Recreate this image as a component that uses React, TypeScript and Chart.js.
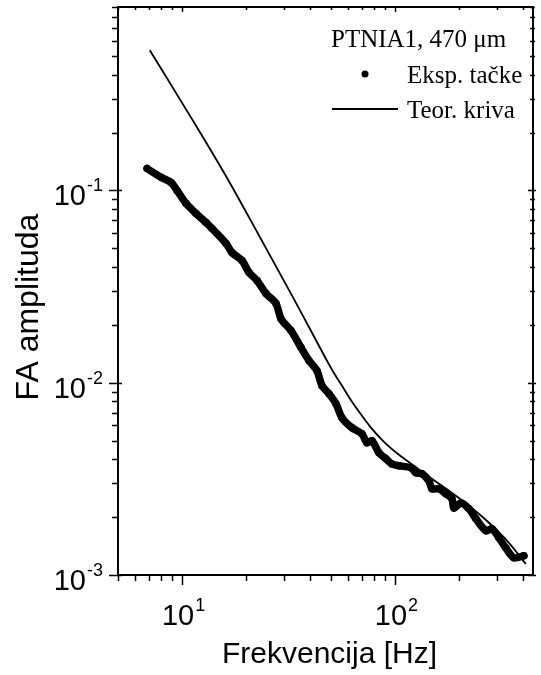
import React, { useEffect, useRef } from "react";
import { Chart, registerables } from "chart.js";

Chart.register(...registerables);

// Experimental points (frequency in Hz, photoacoustic amplitude)
const expFreq = [6.85, 7.97, 8.88, 9.47, 10.44, 11.63, 12.96, 13.83, 16.09, 17.17, 19.13, 20.63, 22.5, 24.8, 27.63, 29.16, 32.49, 36.21, 39.48, 43.03, 45.42, 48.98, 52.84, 56.38, 62.84, 70.0, 73.9, 78.0, 84.1, 90.7, 96.8, 104.4, 118.9, 125.5, 133.9, 144.4, 149.2, 160.9, 173.6, 185.2, 189.2, 204.2, 222.6, 240.1, 267.5, 285.4, 307.8, 332, 362, 403];
const expAmp = [0.13, 0.117, 0.11, 0.1, 0.0856, 0.0759, 0.0681, 0.0634, 0.053, 0.0475, 0.0432, 0.0374, 0.034, 0.0291, 0.0258, 0.0215, 0.01866, 0.01522, 0.01302, 0.01155, 0.00965, 0.00877, 0.00778, 0.00657, 0.00583, 0.00542, 0.00487, 0.00499, 0.00432, 0.00402, 0.00378, 0.0037, 0.00361, 0.0034, 0.00336, 0.00309, 0.00281, 0.00281, 0.00264, 0.00249, 0.00223, 0.00237, 0.00221, 0.00196, 0.0017, 0.00174, 0.00156, 0.00138, 0.00123, 0.00126];

// Theoretical curve
const theoFreq = [7.05, 10.79, 16.62, 22.98, 32.85, 40.76, 50.6, 56.38, 62.84, 70.0, 78.0, 88.8, 104.4, 122.8, 144.4, 179.3, 222.6, 276.3, 342.9, 412];
const theoAmp = [0.536, 0.2488, 0.1114, 0.0583, 0.0284, 0.0182, 0.01169, 0.00965, 0.00796, 0.00673, 0.00576, 0.00493, 0.00422, 0.0037, 0.00324, 0.00274, 0.00229, 0.00187, 0.00147, 0.00114];

// Axis ranges and labels
const xRange = [5, 445];
const yRange = [0.001, 0.9];
const xMajorExps = [1, 2];
const yMajorExps = [-1, -2, -3];

const legendTitle = "PTNIA1, 470 \u03bcm";
const expLabel = "Eksp. ta\u010dke";
const theoLabel = "Teor. kriva";
const xTitle = "Frekvencija [Hz]";
const yTitle = "FA amplituda";

const SANS = '"Liberation Sans", Arial, sans-serif';
const SERIF = '"Liberation Serif", "Times New Roman", serif';

function logTicks(min: number, max: number) {
  const out: { v: number; major: boolean }[] = [];
  const d0 = Math.floor(Math.log10(min));
  const d1 = Math.ceil(Math.log10(max));
  for (let d = d0; d <= d1; d++) {
    for (let m = 1; m <= 9; m++) {
      const v = m * Math.pow(10, d);
      if (v >= min * 0.9999 && v <= max * 1.0001) out.push({ v, major: m === 1 });
    }
  }
  return out;
}

const framePlugin = {
  id: "framePlugin",
  afterDraw(chart: any) {
    const { ctx, chartArea: a, scales } = chart;
    const xs = scales.x;
    const ys = scales.y;
    ctx.save();
    ctx.strokeStyle = "#000";
    ctx.fillStyle = "#000";
    ctx.lineWidth = 2;
    ctx.strokeRect(a.left, a.top, a.right - a.left, a.bottom - a.top);

    ctx.lineWidth = 1.5;
    ctx.beginPath();
    for (const t of logTicks(xRange[0], xRange[1])) {
      const px = Math.round(xs.getPixelForValue(t.v)) + 0.5;
      const out = t.major ? 10 : 6;
      ctx.moveTo(px, a.bottom);
      ctx.lineTo(px, a.bottom + out);
      const inn = t.major ? 5 : 3;
      ctx.moveTo(px, a.top);
      ctx.lineTo(px, a.top + inn);
    }
    for (const t of logTicks(yRange[0], yRange[1])) {
      const py = Math.round(ys.getPixelForValue(t.v)) + 0.5;
      const out = t.major ? 9 : 6;
      ctx.moveTo(a.left - out, py);
      ctx.lineTo(a.left + (t.major ? 4 : 0), py);
      const inn = t.major ? 5 : 3;
      ctx.moveTo(a.right - inn, py);
      ctx.lineTo(a.right + (t.major ? 3 : 2), py);
    }
    ctx.stroke();

    // tick labels
    const baseFont = "29px " + SANS;
    const expFont = "18px " + SANS;
    ctx.textBaseline = "alphabetic";
    ctx.textAlign = "left";
    for (const e of xMajorExps) {
      const px = xs.getPixelForValue(Math.pow(10, e));
      ctx.font = baseFont;
      const w1 = ctx.measureText("10").width;
      ctx.font = expFont;
      const es = String(e);
      const w2 = ctx.measureText(es).width;
      const x0 = px - (w1 + w2) / 2 + 1;
      ctx.font = baseFont;
      ctx.fillText("10", x0, a.bottom + 50);
      ctx.font = expFont;
      ctx.fillText(es, x0 + w1 + 1, a.bottom + 36);
    }
    for (const e of yMajorExps) {
      const py = ys.getPixelForValue(Math.pow(10, e));
      const es = String(e);
      ctx.font = expFont;
      const w2 = ctx.measureText(es).width;
      const right = a.left - 15;
      ctx.fillText(es, right - w2, py + 1);
      ctx.font = baseFont;
      const w1 = ctx.measureText("10").width;
      ctx.fillText("10", right - w2 - w1 - 1, py + 15);
    }

    // axis titles
    ctx.font = "30px " + SANS;
    ctx.textAlign = "center";
    ctx.fillText(xTitle, (a.left + a.right) / 2 + 4, a.bottom + 88);
    ctx.save();
    ctx.translate(38, 307);
    ctx.rotate(-Math.PI / 2);
    ctx.font = "32px " + SANS;
    ctx.fillText(yTitle, 0, 0);
    ctx.restore();

    // legend
    ctx.textAlign = "left";
    ctx.font = "25px " + SERIF;
    ctx.fillText(legendTitle, 331, 47);
    ctx.fillText(expLabel, 407, 83);
    ctx.fillText(theoLabel, 407, 118);
    ctx.beginPath();
    ctx.arc(365, 74, 3.5, 0, Math.PI * 2);
    ctx.fill();
    ctx.lineWidth = 2;
    ctx.beginPath();
    ctx.moveTo(332, 109);
    ctx.lineTo(398, 109);
    ctx.stroke();
    ctx.restore();
  },
};

export default function App() {
  const ref = useRef<HTMLCanvasElement | null>(null);
  useEffect(() => {
    if (!ref.current) return;
    const chart = new Chart(ref.current, {
      type: "scatter",
      data: {
        datasets: [
          {
            label: expLabel,
            data: expFreq.map((f, i) => ({ x: f, y: expAmp[i] })),
            showLine: true,
            borderColor: "#000",
            backgroundColor: "#000",
            borderWidth: 7.5,
            borderJoinStyle: "round",
            borderCapStyle: "round",
            pointRadius: 3.8,
            pointBorderWidth: 0,
            tension: 0.3,
          },
          {
            label: theoLabel,
            data: theoFreq.map((f, i) => ({ x: f, y: theoAmp[i] })),
            showLine: true,
            borderColor: "#000",
            backgroundColor: "#000",
            borderWidth: 1.8,
            pointRadius: 0,
            cubicInterpolationMode: "monotone",
          },
        ],
      },
      options: {
        animation: false,
        responsive: false,
        events: [],
        layout: { padding: { left: 118, top: 7, right: 8, bottom: 100 } },
        plugins: { legend: { display: false }, tooltip: { enabled: false } },
        scales: {
          x: { type: "logarithmic", min: xRange[0], max: xRange[1], display: false },
          y: { type: "logarithmic", min: yRange[0], max: yRange[1], display: false },
        },
      },
      plugins: [framePlugin],
    } as any);
    return () => chart.destroy();
  }, []);
  return (
    <div style={{ position: "absolute", left: 0, top: 0, width: 541, height: 675, background: "#fff" }}>
      <canvas ref={ref} width={541} height={675} style={{ width: 541, height: 675 }} />
    </div>
  );
}
